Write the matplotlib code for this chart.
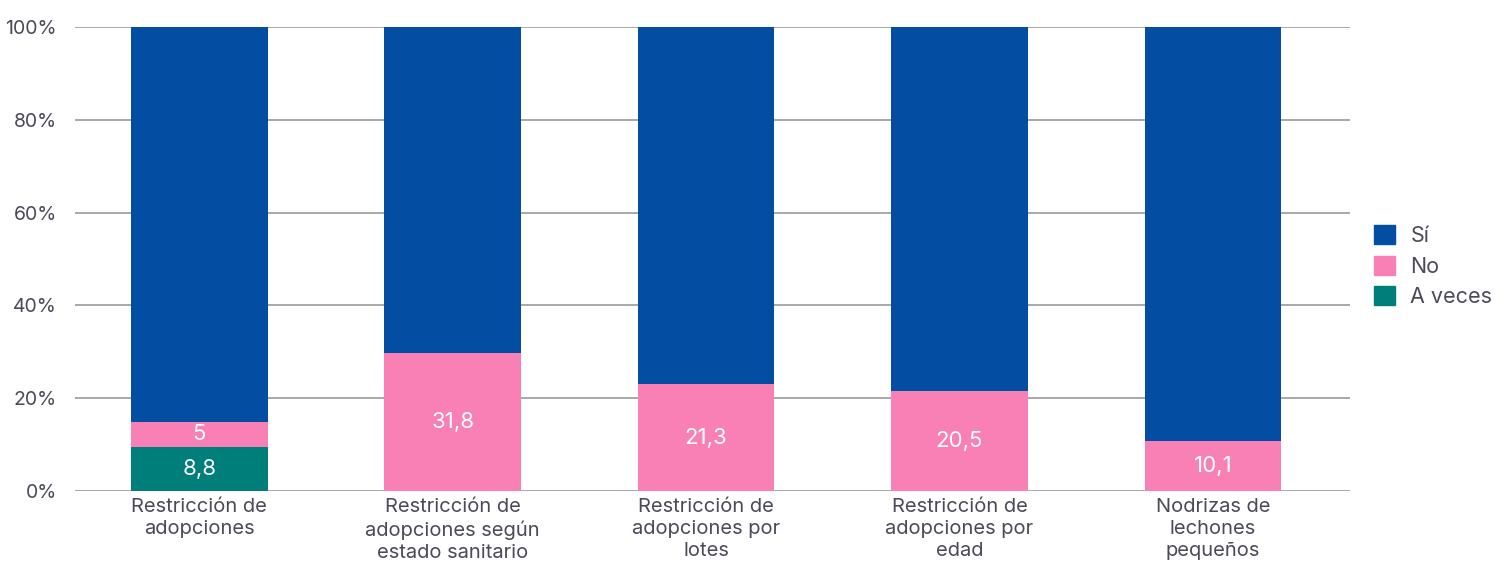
import numpy as np
import matplotlib
matplotlib.use('Agg')
import matplotlib.pyplot as plt
from matplotlib.patches import Patch

plt.rcParams['font.family'] = ['Inter', 'DejaVu Sans']

# Data
categories = ['Restricción de\nadopciones',
              'Restricción de\nadopciones según\nestado sanitario',
              'Restricción de\nadopciones por\nlotes',
              'Restricción de\nadopciones por\nedad',
              'Nodrizas de\nlechones\npequeños']
a_veces = np.array([8.8, 0, 0, 0, 0])
no = np.array([5, 31.8, 21.3, 20.5, 10.1])
si = np.array([78.9, 75.6, 71.5, 74.4, 83.4])

col_si = '#034EA2'
col_no = '#F880B4'
col_av = '#007F7A'
txt = '#4a4a58'

total = a_veces + no + si
p_av = a_veces / total * 100
p_no = no / total * 100
p_si = si / total * 100

fig = plt.figure(figsize=(15.05, 5.66), dpi=100)
ax = fig.add_axes([0.0498, 0.133, 0.847, 0.819])

x = np.arange(len(categories))
w = 0.539
ax.bar(x, p_av, w, color=col_av, zorder=3)
ax.bar(x, p_no, w, bottom=p_av, color=col_no, zorder=3)
ax.bar(x, p_si, w, bottom=p_av + p_no, color=col_si, zorder=3)

for i in range(len(x)):
    if a_veces[i] > 0:
        ax.text(x[i], p_av[i] / 2, f'{a_veces[i]:g}'.replace('.', ','),
                ha='center', va='center', color='white', fontsize=16, zorder=4)
    if no[i] > 0:
        ax.text(x[i], p_av[i] + p_no[i] / 2, f'{no[i]:g}'.replace('.', ','),
                ha='center', va='center', color='white', fontsize=16, zorder=4)

ax.set_xlim(-0.491, 4.54)
ax.set_ylim(0, 100)
ax.set_yticks(np.arange(0, 101, 20))
ax.set_yticklabels([f'{v}%' for v in range(0, 101, 20)])
ax.set_xticks(x)
ax.set_xticklabels(categories, linespacing=1.3)
ax.tick_params(axis='both', length=0, labelsize=14.5, colors=txt)
ax.tick_params(axis='y', pad=13, labelsize=14)
ax.tick_params(axis='x', pad=5)
ax.grid(axis='y', color='#a8a8a8', linewidth=1.4, zorder=0)
for s in ax.spines.values():
    s.set_visible(False)

handles = [Patch(color=col_si, label='Sí'),
           Patch(color=col_no, label='No'),
           Patch(color=col_av, label='A veces')]
leg = fig.legend(handles=handles, loc='center left', bbox_to_anchor=(0.9, 0.53),
                 frameon=False, fontsize=15.5, handlelength=1.0, handleheight=1.0,
                 handletextpad=0.7, labelspacing=0.45)
for t in leg.get_texts():
    t.set_color(txt)

fig.savefig('out.png', dpi=100)
